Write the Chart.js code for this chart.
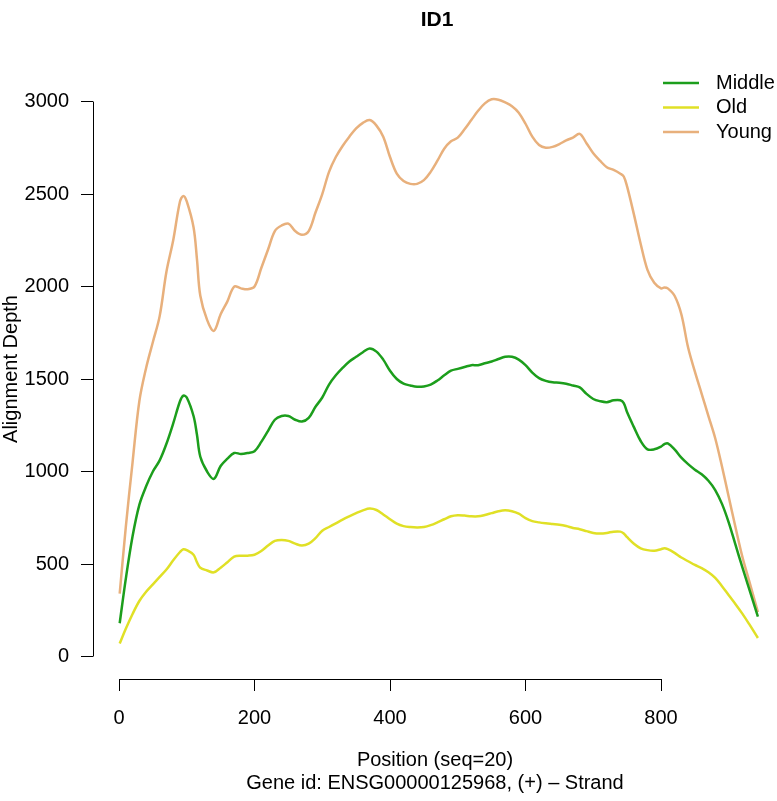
<!DOCTYPE html>
<html>
<head>
<meta charset="utf-8">
<script src="https://cdn.jsdelivr.net/npm/chart.js@4.4.1/dist/chart.umd.min.js"></script>
<style>
  body { margin: 0; background: #fff; }
  #grafico { display: block; }
</style>
</head>
<body>
<canvas id="grafico" width="777" height="801"></canvas>
<script>
// posiciones a lo largo del gen
var posiciones = [1, 10, 20, 30, 40, 50, 60, 70, 80, 90, 95, 100, 110, 115, 120, 130, 140, 150, 160, 170,
  180, 190, 200, 210, 220, 230, 240, 250, 260, 270, 280, 290, 300, 310, 320, 330, 340, 350, 360, 370,
  380, 390, 400, 410, 420, 430, 440, 450, 460, 470, 480, 490, 500, 510, 520, 530, 540, 550, 560, 570,
  580, 590, 600, 610, 620, 630, 640, 650, 660, 670, 680, 690, 700, 710, 720, 730, 740, 745, 750, 760,
  770, 780, 790, 800, 805, 810, 820, 830, 840, 850, 860, 870, 880, 890, 900, 910, 920, 930, 943];

var middle = [180, 420, 650, 820, 920, 1000, 1060, 1150, 1260, 1380, 1410, 1400, 1300, 1200, 1080, 1000, 960, 1030, 1070, 1100,
  1095, 1100, 1110, 1160, 1220, 1280, 1300, 1300, 1280, 1270, 1290, 1350, 1400, 1470, 1520, 1560, 1595, 1620, 1645, 1665,
  1648, 1605, 1545, 1500, 1475, 1465, 1458, 1460, 1470, 1492, 1520, 1545, 1555, 1565, 1575, 1575, 1585, 1595, 1608, 1620,
  1620, 1605, 1575, 1535, 1505, 1490, 1482, 1480, 1475, 1465, 1455, 1420, 1392, 1380, 1375, 1385, 1385, 1370, 1320, 1240,
  1165, 1120, 1120, 1135, 1148, 1152, 1120, 1075, 1040, 1010, 985, 950, 900, 825, 724, 603, 483, 367, 215];

var old = [70, 150, 230, 300, 350, 390, 430, 470, 520, 565, 580, 575, 550, 510, 480, 465, 455, 480, 510, 540,
  545, 545, 550, 570, 600, 625, 630, 625, 610, 600, 610, 640, 680, 700, 720, 740, 758, 775, 790, 800,
  792, 768, 742, 718, 705, 700, 698, 700, 710, 725, 742, 758, 764, 762, 758, 758, 765, 775, 785, 790,
  785, 772, 748, 732, 725, 720, 716, 712, 705, 695, 688, 678, 668, 665, 668, 675, 675, 665, 645, 610,
  585, 575, 572, 580, 585, 580, 560, 535, 515, 495, 478, 455, 425, 380, 331, 283, 232, 176, 100];

var young = [340, 700, 1050, 1380, 1560, 1700, 1840, 2080, 2250, 2460, 2490, 2460, 2320, 2150, 1950, 1820, 1760, 1850, 1920, 2000,
  1990, 1985, 2000, 2100, 2200, 2300, 2330, 2340, 2300, 2280, 2300, 2400, 2500, 2620, 2700, 2760, 2810, 2855, 2885, 2900,
  2870, 2810, 2700, 2610, 2570, 2555, 2555, 2575, 2620, 2680, 2745, 2785, 2805, 2850, 2900, 2950, 2990, 3012, 3010, 2995,
  2975, 2940, 2880, 2810, 2765, 2750, 2755, 2770, 2790, 2805, 2825, 2775, 2720, 2680, 2645, 2630, 2610, 2595, 2540, 2390,
  2230, 2090, 2020, 1990, 1995, 1990, 1950, 1850, 1670, 1540, 1420, 1300, 1180, 1027, 862, 697, 540, 410, 240];

var ticksX = [0, 200, 400, 600, 800];
var ticksY = [0, 500, 1000, 1500, 2000, 2500, 3000];

var fuente = "'Liberation Sans', Arial, Helvetica, sans-serif";

function puntos(valores) {
    return posiciones.map(function (p, i) { return {x: p, y: valores[i]}; });
}

// ejes parciales, título principal y leyenda al estilo de R
var extras = {
    id: "extras",
    afterDraw: function (chart) {
        var ctx = chart.ctx;
        var area = chart.chartArea;
        var sx = chart.scales.x;
        var sy = chart.scales.y;
        ctx.save();
        ctx.strokeStyle = "#000";
        ctx.lineWidth = 1;
        ctx.beginPath();
        ctx.moveTo(area.left + 0.5, sy.getPixelForValue(ticksY[0]));
        ctx.lineTo(area.left + 0.5, sy.getPixelForValue(ticksY[ticksY.length - 1]));
        ctx.moveTo(sx.getPixelForValue(ticksX[0]), area.bottom + 0.5);
        ctx.lineTo(sx.getPixelForValue(ticksX[ticksX.length - 1]), area.bottom + 0.5);
        ctx.stroke();

        // título
        ctx.fillStyle = "#000";
        ctx.font = "bold 21px " + fuente;
        ctx.textAlign = "center";
        ctx.textBaseline = "middle";
        ctx.fillText("ID1", 437, 20);

        // leyenda
        ctx.font = "20px " + fuente;
        ctx.textAlign = "left";
        chart.data.datasets.forEach(function (ds, i) {
            var y = 83 + i * 24.5;
            ctx.strokeStyle = ds.borderColor;
            ctx.lineWidth = 2.5;
            ctx.beginPath();
            ctx.moveTo(663, y);
            ctx.lineTo(699, y);
            ctx.stroke();
            ctx.fillText(ds.label, 716, y);
        });
        ctx.restore();
    }
};

var ctx = document.getElementById("grafico").getContext("2d");
new Chart(ctx, {
    type: "line",
    data: {
        datasets: [
            {label: "Middle", data: puntos(middle), borderColor: "#1c9e1c", borderWidth: 2.5},
            {label: "Old", data: puntos(old), borderColor: "#e0e026", borderWidth: 2.5},
            {label: "Young", data: puntos(young), borderColor: "#e8b07c", borderWidth: 2.5}
        ]
    },
    options: {
        responsive: false,
        animation: false,
        layout: {padding: {top: 59, right: 0, bottom: 0, left: 0}},
        elements: {
            point: {radius: 0},
            line: {tension: 0.35, fill: false}
        },
        plugins: {
            legend: {display: false},
            title: {display: false},
            tooltip: {enabled: false}
        },
        scales: {
            x: {
                type: "linear",
                min: -38.4,
                max: 971.2,
                afterBuildTicks: function (s) { s.ticks = ticksX.map(function (v) { return {value: v}; }); },
                afterFit: function (s) { s.height = 122; },
                border: {display: false},
                grid: {drawOnChartArea: false, drawTicks: true, tickLength: 12, color: "#000", lineWidth: 1},
                ticks: {
                    color: "#000", font: {family: fuente, size: 20}, padding: 15, maxRotation: 0, autoSkip: false,
                    callback: function (v) { return String(v); }
                },
                title: {
                    display: true,
                    text: ["Position (seq=20)", "Gene id: ENSG00000125968, (+) \u2013 Strand"],
                    color: "#000",
                    font: {family: fuente, size: 20, lineHeight: 1.15},
                    padding: {top: 0, bottom: 6}
                }
            },
            y: {
                type: "linear",
                min: -121.6,
                max: 3230,
                afterBuildTicks: function (s) { s.ticks = ticksY.map(function (v) { return {value: v}; }); },
                afterFit: function (s) { s.width = 93; },
                border: {display: false},
                grid: {drawOnChartArea: false, drawTicks: true, tickLength: 12, color: "#000", lineWidth: 1},
                ticks: {
                    color: "#000", font: {family: fuente, size: 20}, padding: 12, autoSkip: false,
                    callback: function (v) { return String(v); }
                },
                title: {
                    display: true,
                    text: "Alignment Depth",
                    color: "#000",
                    font: {family: fuente, size: 20, lineHeight: 1.1},
                    padding: {top: 0, bottom: 0}
                }
            }
        }
    },
    plugins: [extras]
});
</script>
</body>
</html>
